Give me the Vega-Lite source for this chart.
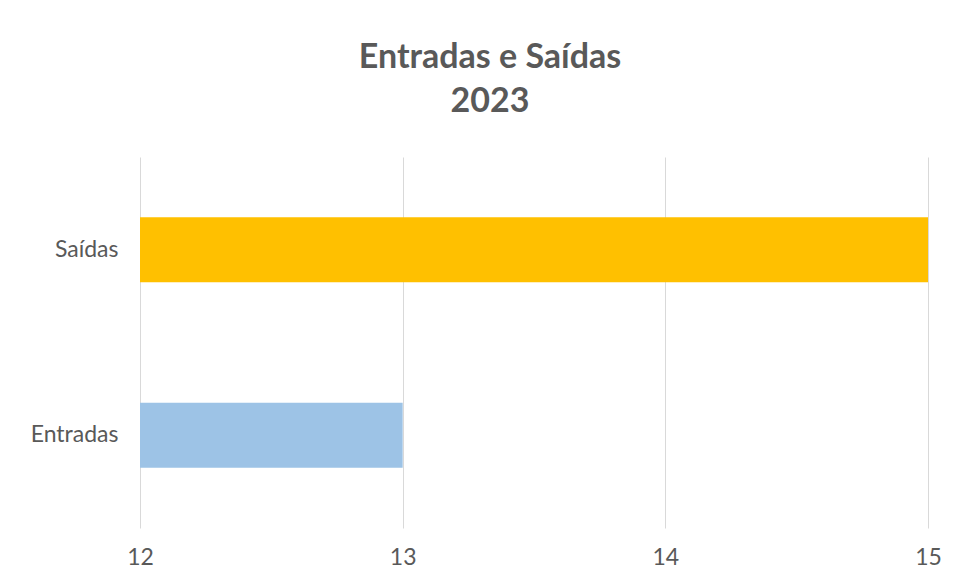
{
  "$schema": "https://vega.github.io/schema/vega-lite/v6.json",
  "width": 788,
  "height": 371,
  "autosize": {"type": "none"},
  "padding": {"left": 140, "top": 157, "right": 30, "bottom": 53},
  "background": "white",
  "title": {
    "text": ["Entradas e Saídas", "2023"],
    "font": "Lato",
    "fontSize": 34,
    "fontWeight": "bold",
    "color": "#595959",
    "lineHeight": 44,
    "anchor": "middle",
    "dx": -44,
    "offset": 38
  },
  "data": {
    "values": [
      {"categoria": "Saídas", "valor": 15},
      {"categoria": "Entradas", "valor": 13}
    ]
  },
  "mark": {"type": "bar"},
  "encoding": {
    "y": {
      "field": "categoria",
      "type": "nominal",
      "sort": ["Saídas", "Entradas"],
      "scale": {"paddingInner": 0.65, "paddingOuter": 0.325},
      "axis": {
        "title": null,
        "ticks": false,
        "domain": false,
        "grid": false,
        "labelFont": "Lato",
        "labelFontSize": 23,
        "labelColor": "#595959",
        "labelPadding": 22
      }
    },
    "x": {
      "field": "valor",
      "type": "quantitative",
      "scale": {"domain": [12, 15], "zero": false, "clamp": true},
      "axis": {
        "title": null,
        "values": [12, 13, 14, 15],
        "ticks": false,
        "domain": false,
        "grid": true,
        "gridColor": "#d9d9d9",
        "gridWidth": 1,
        "labelFlush": false,
        "labelFont": "Lato",
        "labelFontSize": 23,
        "labelColor": "#595959",
        "labelPadding": 18
      }
    },
    "color": {
      "field": "categoria",
      "type": "nominal",
      "scale": {"domain": ["Saídas", "Entradas"], "range": ["#FFC000", "#9DC3E6"]},
      "legend": null
    }
  },
  "config": {"view": {"stroke": null}}
}
